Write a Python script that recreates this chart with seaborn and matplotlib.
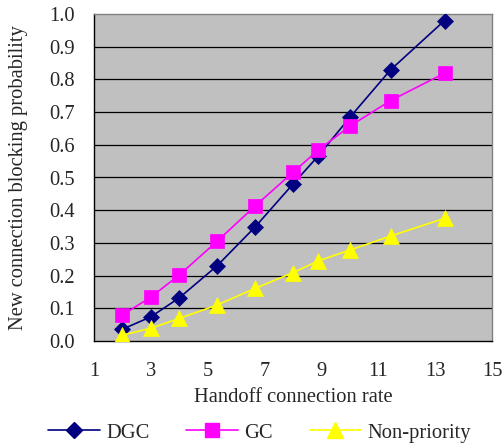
import matplotlib
matplotlib.use("Agg")
import matplotlib.pyplot as plt
import seaborn as sns
import pandas as pd
from matplotlib.lines import Line2D

# ---- data ----
rate = [2.0, 3.0, 4.0, 5.33, 6.67, 8.0, 8.89, 10.0, 11.43, 13.33]
dgc = [0.036, 0.074, 0.132, 0.230, 0.349, 0.480, 0.566, 0.684, 0.829, 0.980]
gc = [0.080, 0.134, 0.202, 0.305, 0.413, 0.516, 0.584, 0.657, 0.735, 0.819]
nonp = [0.018, 0.039, 0.069, 0.110, 0.161, 0.209, 0.245, 0.278, 0.321, 0.375]
series_names = ["DGC", "GC", "Non-priority"]
xticks = [1, 3, 5, 7, 9, 11, 13, 15]
yticks = [0.0, 0.1, 0.2, 0.3, 0.4, 0.5, 0.6, 0.7, 0.8, 0.9, 1.0]

df = pd.DataFrame({
    "rate": rate * 3,
    "p": dgc + gc + nonp,
    "series": [series_names[0]] * len(rate) + [series_names[1]] * len(rate) + [series_names[2]] * len(rate),
})

sns.set_theme(style="white")
plt.rcParams["font.family"] = ["Liberation Serif", "DejaVu Serif"]
FS = 14.8

colors = {"DGC": "#000080", "GC": "#FF00FF", "Non-priority": "#FFFF00"}
markers = {"DGC": "D", "GC": "s", "Non-priority": "^"}
msize = {"DGC": 8.5, "GC": 10, "Non-priority": 11}

fig = plt.figure(figsize=(5.03, 4.48), dpi=100)
ax = fig.add_axes([94 / 503, 1 - 341 / 448, (492 - 94) / 503, (341 - 14) / 448])
ax.set_facecolor("#C0C0C0")

for name in series_names:
    sub = df[df["series"] == name]
    sns.lineplot(data=sub, x="rate", y="p", ax=ax, color=colors[name],
                 marker=markers[name], markersize=msize[name],
                 markeredgecolor=colors[name], markeredgewidth=0.5,
                 linewidth=1.2, legend=False, zorder=3)

ax.set_xlim(1, 15)
ax.set_ylim(0, 1.0)
ax.set_xticks(xticks)
ax.set_yticks(yticks)
ax.set_xticklabels([str(t) for t in xticks], fontsize=FS)
ax.set_yticklabels([f"{t:.1f}" for t in yticks], fontsize=FS)
ax.tick_params(axis="both", direction="in", length=5, width=1.0, color="black")
ax.tick_params(axis="x", pad=15)
ax.tick_params(axis="y", pad=14)

for y in yticks[1:-1]:
    ax.axhline(y, color="black", linewidth=0.9, zorder=1)

for s in ["top", "right"]:
    ax.spines[s].set_color("#808080")
    ax.spines[s].set_linewidth(1.0)
for s in ["left", "bottom"]:
    ax.spines[s].set_color("black")
    ax.spines[s].set_linewidth(1.0)

ax.set_xlabel("Handoff connection rate", fontsize=FS, labelpad=5)
ax.set_ylabel("New connection blocking probability", fontsize=FS, labelpad=15)

handles = [Line2D([0], [0], color=colors[n], marker=markers[n], markersize=msize[n],
                  markeredgecolor=colors[n], linewidth=1.2) for n in series_names]
fig.legend(handles, series_names, loc="center", bbox_to_anchor=(0.5 + 8 / 503, 1 - 433 / 448),
           ncol=3, frameon=False, fontsize=FS, handlelength=2.5, columnspacing=1.8,
           handletextpad=0.3)

fig.savefig("out.png", dpi=100)
